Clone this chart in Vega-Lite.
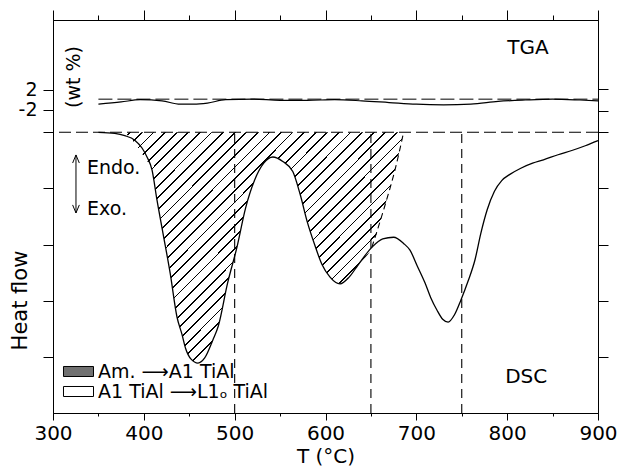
{
  "$schema": "https://vega.github.io/schema/vega-lite/v6.json",
  "width": 545,
  "height": 393,
  "autosize": "none",
  "padding": {"left": 53, "top": 20, "right": 28, "bottom": 60},
  "background": "white",
  "datasets": {
    "dsc": [
      {"T": 350, "hf": 5.0}, {"T": 368, "hf": 4.98}, {"T": 379, "hf": 4.94}, {"T": 390, "hf": 4.86},
      {"T": 398, "hf": 4.72}, {"T": 403.5, "hf": 4.56}, {"T": 409, "hf": 4.33}, {"T": 414.5, "hf": 3.79},
      {"T": 421, "hf": 3.21}, {"T": 429, "hf": 2.49}, {"T": 436.5, "hf": 1.71}, {"T": 442, "hf": 1.40},
      {"T": 446, "hf": 1.15}, {"T": 452, "hf": 0.96}, {"T": 459.6, "hf": 0.89}, {"T": 467, "hf": 0.98},
      {"T": 476, "hf": 1.30}, {"T": 482, "hf": 1.55}, {"T": 492, "hf": 2.30}, {"T": 502.6, "hf": 2.96},
      {"T": 512, "hf": 3.65}, {"T": 522, "hf": 4.15}, {"T": 532, "hf": 4.45}, {"T": 542, "hf": 4.56},
      {"T": 553, "hf": 4.48}, {"T": 564, "hf": 4.30}, {"T": 572, "hf": 3.90}, {"T": 580, "hf": 3.40},
      {"T": 588, "hf": 3.00}, {"T": 596, "hf": 2.65}, {"T": 605, "hf": 2.42}, {"T": 616, "hf": 2.30},
      {"T": 626, "hf": 2.42}, {"T": 636, "hf": 2.64}, {"T": 651, "hf": 2.95}, {"T": 663, "hf": 3.10},
      {"T": 675, "hf": 3.13}, {"T": 686, "hf": 3.02}, {"T": 693, "hf": 2.90}, {"T": 701, "hf": 2.62},
      {"T": 709.5, "hf": 2.32}, {"T": 716, "hf": 2.05}, {"T": 722.8, "hf": 1.83}, {"T": 729, "hf": 1.67},
      {"T": 735, "hf": 1.62}, {"T": 742, "hf": 1.75}, {"T": 749, "hf": 2.01}, {"T": 757, "hf": 2.35},
      {"T": 764.6, "hf": 2.73}, {"T": 771, "hf": 3.20}, {"T": 778, "hf": 3.62}, {"T": 786, "hf": 3.95},
      {"T": 794, "hf": 4.14}, {"T": 803, "hf": 4.25}, {"T": 815, "hf": 4.36}, {"T": 828, "hf": 4.45},
      {"T": 840, "hf": 4.51}, {"T": 856, "hf": 4.60}, {"T": 872, "hf": 4.68}, {"T": 886, "hf": 4.76},
      {"T": 900, "hf": 4.85}
    ],
    "peak": [
      {"T": 378, "hf": 5.0}, {"T": 388, "hf": 4.85}, {"T": 396, "hf": 4.66}, {"T": 403, "hf": 4.50},
      {"T": 409, "hf": 4.33}, {"T": 414.5, "hf": 3.79}, {"T": 421, "hf": 3.21}, {"T": 429, "hf": 2.49},
      {"T": 436.5, "hf": 1.71}, {"T": 442, "hf": 1.40}, {"T": 446, "hf": 1.15}, {"T": 452, "hf": 0.96},
      {"T": 459.6, "hf": 0.89}, {"T": 467, "hf": 0.98}, {"T": 476, "hf": 1.30}, {"T": 482, "hf": 1.55},
      {"T": 492, "hf": 2.30}, {"T": 502.6, "hf": 2.96}, {"T": 512, "hf": 3.65}, {"T": 522, "hf": 4.15},
      {"T": 532, "hf": 4.45}, {"T": 542, "hf": 4.56}, {"T": 553, "hf": 4.48}, {"T": 564, "hf": 4.30},
      {"T": 572, "hf": 3.90}, {"T": 580, "hf": 3.40}, {"T": 588, "hf": 3.00}, {"T": 596, "hf": 2.65},
      {"T": 605, "hf": 2.42}, {"T": 616, "hf": 2.30}, {"T": 626, "hf": 2.42}, {"T": 636, "hf": 2.64},
      {"T": 651, "hf": 2.95}, {"T": 665.5, "hf": 3.70}, {"T": 676.5, "hf": 4.33}, {"T": 686, "hf": 5.0}
    ],
    "tga": [
      {"T": 350, "wt": 5.50}, {"T": 375, "wt": 5.54}, {"T": 396, "wt": 5.58}, {"T": 420, "wt": 5.56},
      {"T": 440, "wt": 5.50}, {"T": 455, "wt": 5.50}, {"T": 470, "wt": 5.52}, {"T": 490, "wt": 5.58},
      {"T": 520, "wt": 5.59}, {"T": 550, "wt": 5.57}, {"T": 580, "wt": 5.57}, {"T": 610, "wt": 5.58},
      {"T": 640, "wt": 5.56}, {"T": 670, "wt": 5.53}, {"T": 700, "wt": 5.50}, {"T": 730, "wt": 5.49},
      {"T": 760, "wt": 5.50}, {"T": 790, "wt": 5.55}, {"T": 820, "wt": 5.575}, {"T": 850, "wt": 5.59},
      {"T": 880, "wt": 5.575}, {"T": 900, "wt": 5.56}
    ],
    "verticals": [{"T": 500}, {"T": 650}, {"T": 750}]
  },
  "resolve": {"axis": {"x": "independent", "y": "independent"}},
  "layer": [
    {
      "data": {"name": "dsc"},
      "mark": {"type": "area", "interpolate": "monotone"},
      "encoding": {
        "x": {"field": "T", "type": "quantitative",
          "scale": {"domain": [300, 900], "nice": false, "zero": false},
          "axis": {"orient": "bottom", "values": [300, 350, 400, 450, 500, 550, 600, 650, 700, 750, 800, 850, 900],
            "tickSize": {"condition": {"test": "datum.value % 100 === 0", "value": 7}, "value": 3},
            "labelExpr": "datum.value % 100 === 0 ? datum.label : ''",
            "labelPadding": 3, "labelFlush": false, "labelOverlap": false,
            "title": "T (°C)", "titlePadding": 3}},
        "y": {"field": "hf", "type": "quantitative",
          "scale": {"domain": [0, 7], "nice": false, "zero": false},
          "axis": {"orient": "left", "values": [1, 2, 3, 4, 5, 5.4, 5.76], "tickSize": 10,
            "labelExpr": "datum.value > 5.7 ? '2' : datum.value > 5.3 ? '-2' : ''",
            "labelPadding": 6, "labelFontSize": 19, "title": "Heat flow", "titleX": -33, "titleY": 280, "titleAngle": 270,
            "titleAlign": "center", "titleBaseline": "middle", "titleFontSize": 21}},
        "y2": {"datum": 5},
        "fill": {"datum": "A1 TiAl ⟶L1ₒ TiAl", "type": "nominal",
          "scale": {"domain": ["Am. ⟶A1 TiAl", "A1 TiAl ⟶L1ₒ TiAl"], "range": ["#707070", "white"]},
          "legend": {"orient": "none", "legendX": 16, "legendY": 342, "title": null, "padding": 0,
            "symbolType": "M-1.667,-0.556H1.667V0.556H-1.667Z", "symbolSize": 324,
            "symbolStrokeColor": "black", "symbolStrokeWidth": 1,
            "labelFont": "DejaVu Sans", "labelFontSize": 19, "labelColor": "black",
            "labelOffset": 10, "rowPadding": 0, "labelLimit": 400}
        }
      }
    },
    {
      "data": {"name": "peak"},
      "mark": {"type": "area", "interpolate": "monotone", "stroke": null,
        "fill": {"gradient": "linear", "x1": 0, "y1": 0, "x2": 1.088, "y2": 0.894, "stops": [
          {"offset": 0, "color": "white"},
          {"offset": 0.0114, "color": "white"}, {"offset": 0.0114, "color": "black"}, {"offset": 0.0149, "color": "black"}, {"offset": 0.0149, "color": "white"},
          {"offset": 0.0341, "color": "white"}, {"offset": 0.0341, "color": "black"}, {"offset": 0.0376, "color": "black"}, {"offset": 0.0376, "color": "white"},
          {"offset": 0.0568, "color": "white"}, {"offset": 0.0568, "color": "black"}, {"offset": 0.0603, "color": "black"}, {"offset": 0.0603, "color": "white"},
          {"offset": 0.0795, "color": "white"}, {"offset": 0.0795, "color": "black"}, {"offset": 0.0830, "color": "black"}, {"offset": 0.0830, "color": "white"},
          {"offset": 0.1023, "color": "white"}, {"offset": 0.1023, "color": "black"}, {"offset": 0.1058, "color": "black"}, {"offset": 0.1058, "color": "white"},
          {"offset": 0.1250, "color": "white"}, {"offset": 0.1250, "color": "black"}, {"offset": 0.1285, "color": "black"}, {"offset": 0.1285, "color": "white"},
          {"offset": 0.1477, "color": "white"}, {"offset": 0.1477, "color": "black"}, {"offset": 0.1512, "color": "black"}, {"offset": 0.1512, "color": "white"},
          {"offset": 0.1705, "color": "white"}, {"offset": 0.1705, "color": "black"}, {"offset": 0.1740, "color": "black"}, {"offset": 0.1740, "color": "white"},
          {"offset": 0.1932, "color": "white"}, {"offset": 0.1932, "color": "black"}, {"offset": 0.1967, "color": "black"}, {"offset": 0.1967, "color": "white"},
          {"offset": 0.2159, "color": "white"}, {"offset": 0.2159, "color": "black"}, {"offset": 0.2194, "color": "black"}, {"offset": 0.2194, "color": "white"},
          {"offset": 0.2386, "color": "white"}, {"offset": 0.2386, "color": "black"}, {"offset": 0.2421, "color": "black"}, {"offset": 0.2421, "color": "white"},
          {"offset": 0.2614, "color": "white"}, {"offset": 0.2614, "color": "black"}, {"offset": 0.2649, "color": "black"}, {"offset": 0.2649, "color": "white"},
          {"offset": 0.2841, "color": "white"}, {"offset": 0.2841, "color": "black"}, {"offset": 0.2876, "color": "black"}, {"offset": 0.2876, "color": "white"},
          {"offset": 0.3068, "color": "white"}, {"offset": 0.3068, "color": "black"}, {"offset": 0.3103, "color": "black"}, {"offset": 0.3103, "color": "white"},
          {"offset": 0.3295, "color": "white"}, {"offset": 0.3295, "color": "black"}, {"offset": 0.3330, "color": "black"}, {"offset": 0.3330, "color": "white"},
          {"offset": 0.3523, "color": "white"}, {"offset": 0.3523, "color": "black"}, {"offset": 0.3558, "color": "black"}, {"offset": 0.3558, "color": "white"},
          {"offset": 0.3750, "color": "white"}, {"offset": 0.3750, "color": "black"}, {"offset": 0.3785, "color": "black"}, {"offset": 0.3785, "color": "white"},
          {"offset": 0.3977, "color": "white"}, {"offset": 0.3977, "color": "black"}, {"offset": 0.4012, "color": "black"}, {"offset": 0.4012, "color": "white"},
          {"offset": 0.4205, "color": "white"}, {"offset": 0.4205, "color": "black"}, {"offset": 0.4240, "color": "black"}, {"offset": 0.4240, "color": "white"},
          {"offset": 0.4432, "color": "white"}, {"offset": 0.4432, "color": "black"}, {"offset": 0.4467, "color": "black"}, {"offset": 0.4467, "color": "white"},
          {"offset": 0.4659, "color": "white"}, {"offset": 0.4659, "color": "black"}, {"offset": 0.4694, "color": "black"}, {"offset": 0.4694, "color": "white"},
          {"offset": 0.4886, "color": "white"}, {"offset": 0.4886, "color": "black"}, {"offset": 0.4921, "color": "black"}, {"offset": 0.4921, "color": "white"},
          {"offset": 0.5114, "color": "white"}, {"offset": 0.5114, "color": "black"}, {"offset": 0.5149, "color": "black"}, {"offset": 0.5149, "color": "white"},
          {"offset": 0.5341, "color": "white"}, {"offset": 0.5341, "color": "black"}, {"offset": 0.5376, "color": "black"}, {"offset": 0.5376, "color": "white"},
          {"offset": 0.5568, "color": "white"}, {"offset": 0.5568, "color": "black"}, {"offset": 0.5603, "color": "black"}, {"offset": 0.5603, "color": "white"},
          {"offset": 0.5795, "color": "white"}, {"offset": 0.5795, "color": "black"}, {"offset": 0.5830, "color": "black"}, {"offset": 0.5830, "color": "white"},
          {"offset": 0.6023, "color": "white"}, {"offset": 0.6023, "color": "black"}, {"offset": 0.6058, "color": "black"}, {"offset": 0.6058, "color": "white"},
          {"offset": 0.6250, "color": "white"}, {"offset": 0.6250, "color": "black"}, {"offset": 0.6285, "color": "black"}, {"offset": 0.6285, "color": "white"},
          {"offset": 0.6477, "color": "white"}, {"offset": 0.6477, "color": "black"}, {"offset": 0.6512, "color": "black"}, {"offset": 0.6512, "color": "white"},
          {"offset": 0.6705, "color": "white"}, {"offset": 0.6705, "color": "black"}, {"offset": 0.6740, "color": "black"}, {"offset": 0.6740, "color": "white"},
          {"offset": 0.6932, "color": "white"}, {"offset": 0.6932, "color": "black"}, {"offset": 0.6967, "color": "black"}, {"offset": 0.6967, "color": "white"},
          {"offset": 0.7159, "color": "white"}, {"offset": 0.7159, "color": "black"}, {"offset": 0.7194, "color": "black"}, {"offset": 0.7194, "color": "white"},
          {"offset": 0.7386, "color": "white"}, {"offset": 0.7386, "color": "black"}, {"offset": 0.7421, "color": "black"}, {"offset": 0.7421, "color": "white"},
          {"offset": 0.7614, "color": "white"}, {"offset": 0.7614, "color": "black"}, {"offset": 0.7649, "color": "black"}, {"offset": 0.7649, "color": "white"},
          {"offset": 0.7841, "color": "white"}, {"offset": 0.7841, "color": "black"}, {"offset": 0.7876, "color": "black"}, {"offset": 0.7876, "color": "white"},
          {"offset": 0.8068, "color": "white"}, {"offset": 0.8068, "color": "black"}, {"offset": 0.8103, "color": "black"}, {"offset": 0.8103, "color": "white"},
          {"offset": 0.8295, "color": "white"}, {"offset": 0.8295, "color": "black"}, {"offset": 0.8330, "color": "black"}, {"offset": 0.8330, "color": "white"},
          {"offset": 0.8523, "color": "white"}, {"offset": 0.8523, "color": "black"}, {"offset": 0.8558, "color": "black"}, {"offset": 0.8558, "color": "white"},
          {"offset": 0.8750, "color": "white"}, {"offset": 0.8750, "color": "black"}, {"offset": 0.8785, "color": "black"}, {"offset": 0.8785, "color": "white"},
          {"offset": 0.8977, "color": "white"}, {"offset": 0.8977, "color": "black"}, {"offset": 0.9012, "color": "black"}, {"offset": 0.9012, "color": "white"},
          {"offset": 0.9205, "color": "white"}, {"offset": 0.9205, "color": "black"}, {"offset": 0.9240, "color": "black"}, {"offset": 0.9240, "color": "white"},
          {"offset": 0.9432, "color": "white"}, {"offset": 0.9432, "color": "black"}, {"offset": 0.9467, "color": "black"}, {"offset": 0.9467, "color": "white"},
          {"offset": 0.9659, "color": "white"}, {"offset": 0.9659, "color": "black"}, {"offset": 0.9694, "color": "black"}, {"offset": 0.9694, "color": "white"},
          {"offset": 0.9886, "color": "white"}, {"offset": 0.9886, "color": "black"}, {"offset": 0.9921, "color": "black"}, {"offset": 0.9921, "color": "white"},
          {"offset": 1, "color": "white"}
        ]}},
      "encoding": {
        "x": {"field": "T", "type": "quantitative", "axis": null},
        "y": {"field": "hf", "type": "quantitative", "axis": null},
        "y2": {"datum": 5}
      }
    },
    {
      "data": {"name": "dsc"},
      "mark": {"type": "line", "interpolate": "monotone", "color": "black", "strokeWidth": 1.3},
      "encoding": {
        "x": {"field": "T", "type": "quantitative", "axis": null},
        "y": {"field": "hf", "type": "quantitative", "axis": null}
      }
    },
    {
      "data": {"name": "peak"},
      "transform": [{"filter": "datum.T >= 651"}],
      "mark": {"type": "line", "interpolate": "monotone", "color": "black", "strokeWidth": 1.1, "strokeDash": [6, 4]},
      "encoding": {
        "x": {"field": "T", "type": "quantitative", "axis": null},
        "y": {"field": "hf", "type": "quantitative", "axis": null}
      }
    },
    {
      "data": {"values": [{}]},
      "mark": {"type": "rule", "color": "black", "strokeWidth": 1.1, "strokeDash": [12, 5]},
      "encoding": {
        "y": {"datum": 5, "type": "quantitative", "axis": null}
      }
    },
    {
      "data": {"name": "verticals"},
      "mark": {"type": "rule", "color": "black", "strokeWidth": 1.1, "strokeDash": [9, 6]},
      "encoding": {
        "x": {"field": "T", "type": "quantitative",
          "axis": {"orient": "top", "values": [300, 350, 400, 450, 500, 550, 600, 650, 700, 750, 800, 850, 900],
            "tickSize": {"condition": {"test": "datum.value % 100 === 0", "value": 10}, "value": 5},
            "labels": false, "title": null}},
        "y": {"datum": 0, "type": "quantitative",
          "axis": {"orient": "right", "values": [1, 2, 3, 4, 5, 5.38, 5.77], "tickSize": 10, "labels": false, "title": null}},
        "y2": {"datum": 5}
      }
    },
    {
      "data": {"name": "tga"},
      "mark": {"type": "line", "interpolate": "monotone", "color": "black", "strokeWidth": 1.2},
      "encoding": {
        "x": {"field": "T", "type": "quantitative", "axis": null},
        "y": {"field": "wt", "type": "quantitative", "axis": null}
      }
    },
    {
      "data": {"values": [{}]},
      "mark": {"type": "rule", "color": "black", "strokeWidth": 1, "strokeDash": [14, 5]},
      "encoding": {
        "x": {"datum": 350, "type": "quantitative", "axis": null},
        "x2": {"datum": 900},
        "y": {"datum": 5.59, "type": "quantitative", "axis": null}
      }
    },
    {
      "data": {"values": [{}]},
      "mark": {"type": "rule", "color": "black", "strokeWidth": 1},
      "encoding": {
        "x": {"datum": 325.3, "type": "quantitative", "axis": null},
        "y": {"datum": 3.563, "type": "quantitative", "axis": null},
        "y2": {"datum": 4.596}
      }
    },
    {
      "data": {"values": [{}]},
      "mark": {"type": "point", "shape": "M-0.5,1.2L0,0L0.5,1.2", "filled": false, "color": "black", "strokeWidth": 1, "size": 180, "opacity": 1},
      "encoding": {
        "x": {"datum": 325.3, "type": "quantitative", "axis": null},
        "y": {"datum": 4.596, "type": "quantitative", "axis": null}
      }
    },
    {
      "data": {"values": [{}]},
      "mark": {"type": "point", "shape": "M-0.5,-1.2L0,0L0.5,-1.2", "filled": false, "color": "black", "strokeWidth": 1, "size": 180, "opacity": 1},
      "encoding": {
        "x": {"datum": 325.3, "type": "quantitative", "axis": null},
        "y": {"datum": 3.563, "type": "quantitative", "axis": null}
      }
    },
    {
      "data": {"values": [{}]},
      "mark": {"type": "text", "text": "TGA", "font": "DejaVu Sans", "fontSize": 20, "color": "black", "align": "center", "baseline": "middle"},
      "encoding": {
        "x": {"datum": 823, "type": "quantitative", "axis": null},
        "y": {"datum": 6.5, "type": "quantitative", "axis": null}
      }
    },
    {
      "data": {"values": [{}]},
      "mark": {"type": "text", "text": "DSC", "font": "DejaVu Sans", "fontSize": 20, "color": "black", "align": "center", "baseline": "middle"},
      "encoding": {
        "x": {"datum": 821, "type": "quantitative", "axis": null},
        "y": {"datum": 0.64, "type": "quantitative", "axis": null}
      }
    },
    {
      "data": {"values": [{}]},
      "mark": {"type": "text", "text": "(wt %)", "font": "DejaVu Sans", "fontSize": 19, "color": "black", "align": "center", "baseline": "middle", "angle": 270},
      "encoding": {
        "x": {"datum": 323, "type": "quantitative", "axis": null},
        "y": {"datum": 5.985, "type": "quantitative", "axis": null}
      }
    },
    {
      "data": {"values": [{}]},
      "mark": {"type": "text", "text": "Endo.", "font": "DejaVu Sans", "fontSize": 19, "color": "black", "align": "left", "baseline": "middle"},
      "encoding": {
        "x": {"datum": 337.4, "type": "quantitative", "axis": null},
        "y": {"datum": 4.364, "type": "quantitative", "axis": null}
      }
    },
    {
      "data": {"values": [{}]},
      "mark": {"type": "text", "text": "Exo.", "font": "DejaVu Sans", "fontSize": 19, "color": "black", "align": "left", "baseline": "middle"},
      "encoding": {
        "x": {"datum": 337.4, "type": "quantitative", "axis": null},
        "y": {"datum": 3.634, "type": "quantitative", "axis": null}
      }
    }
  ],
  "config": {
    "font": "DejaVu Sans",
    "view": {"stroke": "black", "strokeWidth": 1},
    "axis": {
      "grid": false, "domainColor": "black", "domainWidth": 1, "tickColor": "black", "tickWidth": 1,
      "labelColor": "black", "labelFont": "DejaVu Sans", "labelFontSize": 20,
      "titleColor": "black", "titleFont": "DejaVu Sans", "titleFontSize": 20, "titleFontWeight": "normal"
    }
  }
}
